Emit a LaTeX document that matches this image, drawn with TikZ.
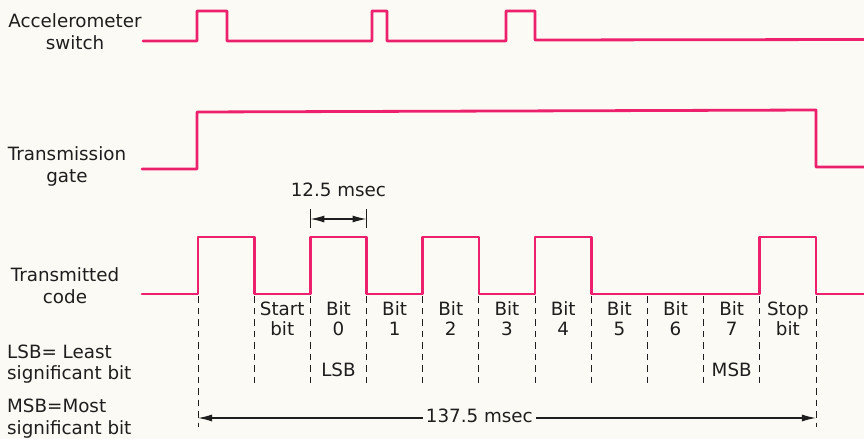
\documentclass[tikz,border=0pt]{standalone}
\usepackage{fontspec}
\setmainfont{DejaVu Sans}
\usetikzlibrary{arrows.meta,calc}
\definecolor{sig}{RGB}{236,32,108}
\definecolor{bg}{RGB}{252,250,244}
\definecolor{ink}{RGB}{30,30,30}
\begin{document}
\begin{tikzpicture}[x=1pt,y=-1pt,
  signal/.style={draw=sig, line width=2.8pt, line join=round, line cap=round},
  guide/.style={draw=ink, line width=0.9pt, dash pattern=on 6.5pt off 5pt},
  dim/.style={draw=ink, line width=1.2pt},
  tip/.style={-{Latex[length=14pt,width=7pt]}},
  lbl/.style={font=\fontsize{18.3}{21.5}\selectfont, text=ink, inner sep=0pt, anchor=base, align=center},
  bitlbl/.style={lbl, font=\fontsize{18.3}{19.5}\selectfont},
  note/.style={lbl, align=left, anchor=base west}]
\fill[bg] (0,0) rectangle (864,439);
\useasboundingbox (0,0) rectangle (864,439);

% row labels (anchor = baseline of last line)
\node[lbl] (acc)  at (75,49)  {Accelerometer\\switch};
\node[lbl] (gate) at (67,182) {Transmission\\gate};
\node[lbl] (code) at (65,303) {Transmitted\\code};
\node[note] (lsbnote) at (7,379.5) {LSB= Least\\significant bit};
\node[note] (msbnote) at (7,434) {MSB=Most\\significant bit};

% accelerometer switch
\draw[signal] (143,41) -- (197,41) -- (197,11) -- (227,11) -- (227,41)
  -- (372,41) -- (372,11) -- (387,11) -- (387,41)
  -- (506,41) -- (506,11) -- (535,11) -- (535,40) -- (864,39.5);

% transmission gate
\draw[signal] (142,169) -- (197,169) -- (197,112) -- (816,110) -- (816,167) -- (864,167);

% bit boundaries
\foreach \i in {0,...,11} \coordinate (b\i) at ({198+\i*56.18},294);

% transmitted code
\draw[signal] (142,294) -- (b0) -- ++(0,-57) -| (b1) -- (b2) -- ++(0,-57) -| (b3)
  -- (b4) -- ++(0,-57) -| (b5) -- (b6) -- ++(0,-57) -| (b7)
  -- (b10) -- ++(0,-57) -| (b11) -- (864,294);

% dashed guides
\foreach \i in {1,...,10} \draw[guide] ($(b\i)+(0,2)$) -- ++(0,91);
\draw[guide] ($(b0)+(0,2)$) -- ++(0,131);
\draw[guide] ($(b11)+(0,2)$) -- ++(0,131);

% bit labels
\foreach \i/\t in {1/Start\\bit, 2/Bit\\0, 3/Bit\\1, 4/Bit\\2, 5/Bit\\3, 6/Bit\\4,
                   7/Bit\\5, 8/Bit\\6, 9/Bit\\7, 10/Stop\\bit}
  \node[bitlbl] (bit\i) at ({198+(\i+0.5)*56.18},335) {\t};
\node[lbl] (lsb) at ({198+2.5*56.18},376) {LSB};
\node[lbl] (msb) at ({198+9.5*56.18},376) {MSB};

% 12.5 msec dimension
\coordinate (d1) at ($(b2)+(0,-75)$);
\coordinate (d2) at ($(b3)+(0,-75)$);
\draw[dim] ($(d1)+(0,-10)$) -- ($(d1)+(0,9)$);
\draw[dim] ($(d2)+(0,-10)$) -- ($(d2)+(0,9)$);
\draw[dim,{Latex[length=14pt,width=7pt]}-{Latex[length=14pt,width=7pt]}] (d1) -- (d2);
\node[lbl] (short) at ($(d1)!.5!(d2)+(0,-23)$) {12.5 msec};

% 137.5 msec dimension
\coordinate (t1) at ($(b0)+(0,124)$);
\coordinate (t2) at ($(b11)+(0,124)$);
\node[lbl, anchor=base east] (total) at (533,422) {137.5 msec};
\draw[dim,tip] (total.west |- t1) ++(-3,0) -- (t1);
\draw[dim,tip] (total.east |- t2) ++(3,0) -- (t2);
\end{tikzpicture}
\end{document}
